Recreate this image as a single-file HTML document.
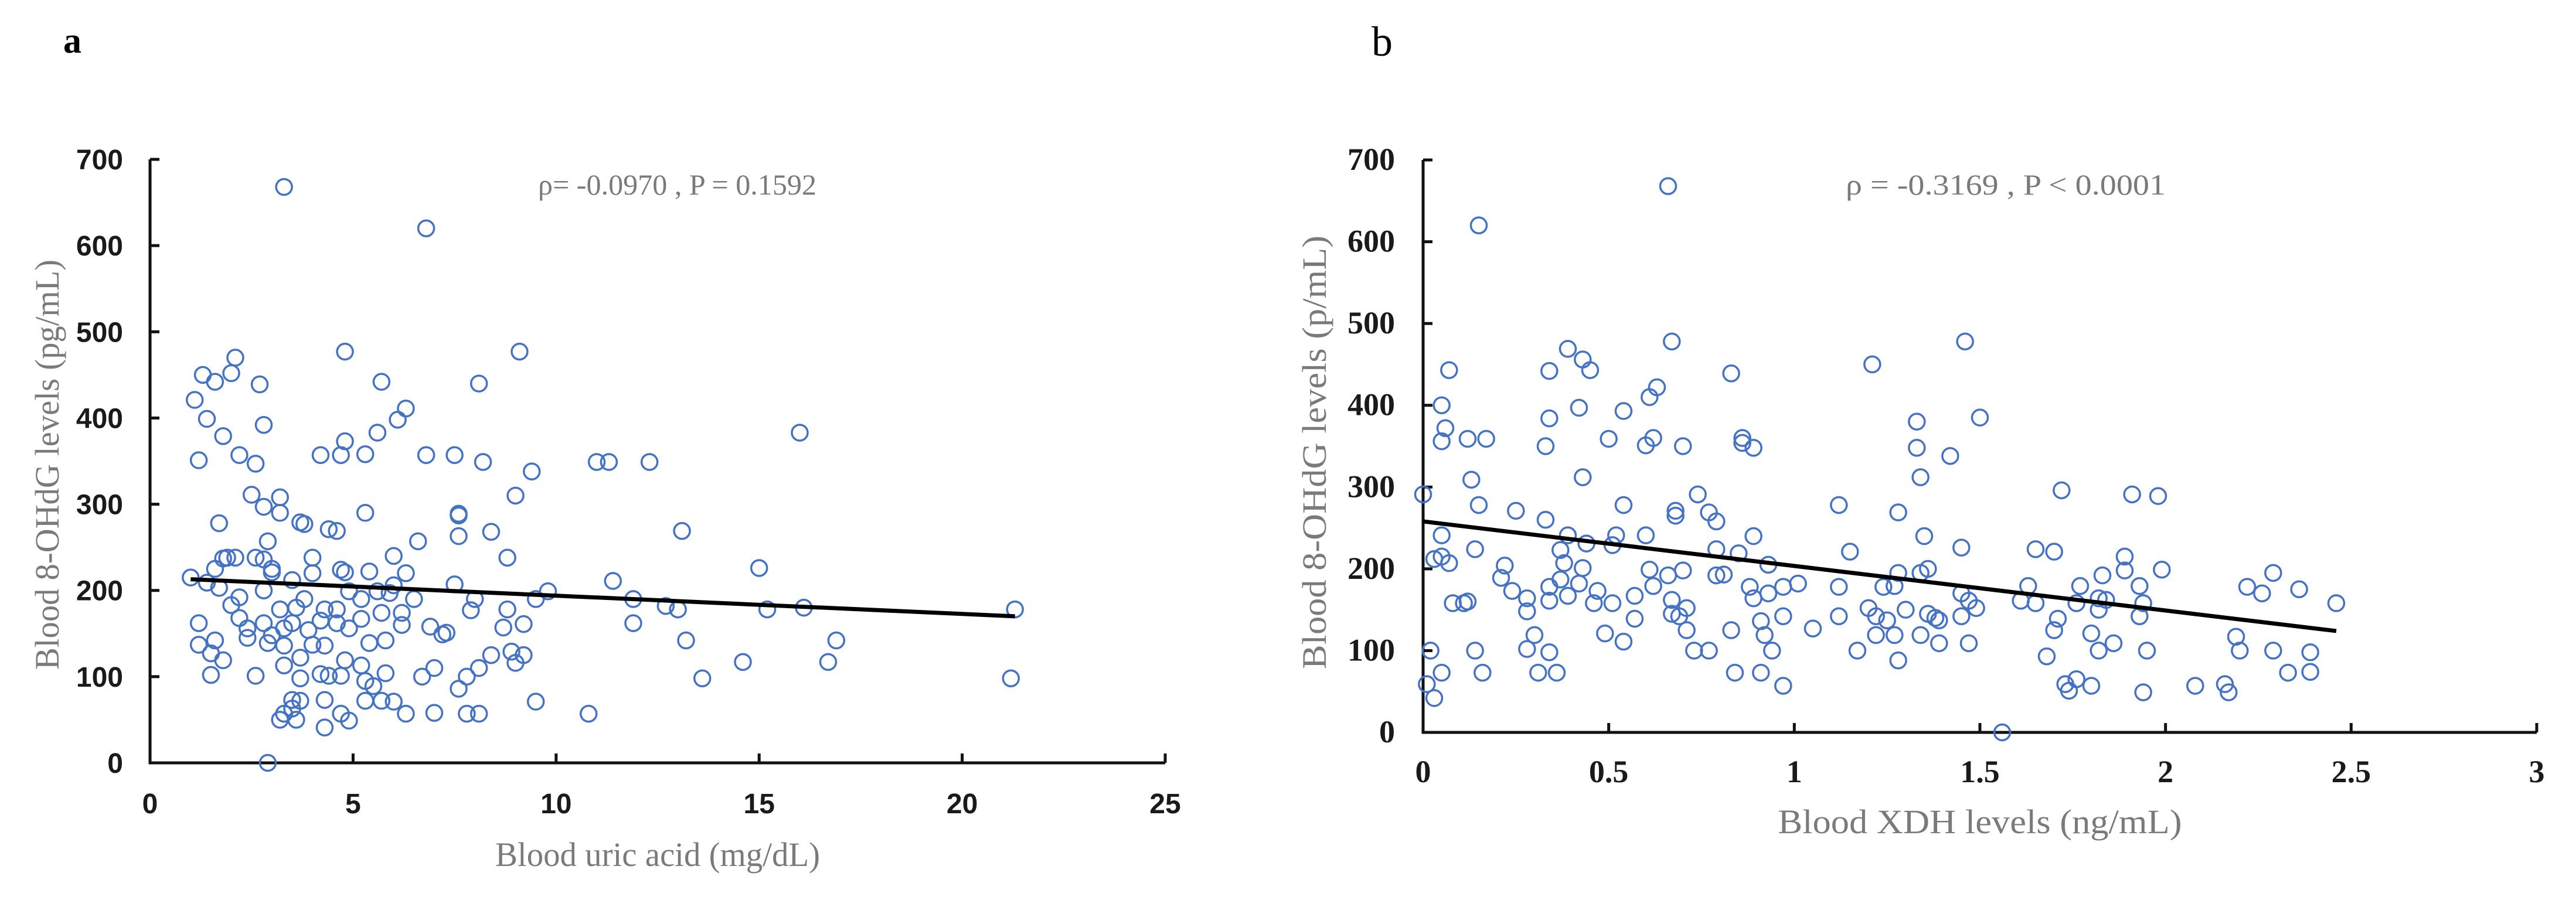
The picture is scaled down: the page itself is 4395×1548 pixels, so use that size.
<!DOCTYPE html>
<html><head><meta charset="utf-8"><style>
html,body{margin:0;padding:0;background:#fff;}
svg{display:block;}
</style></head><body>
<svg id="fig" width="4395" height="1548" viewBox="0 0 4395 1548" xmlns="http://www.w3.org/2000/svg">
<rect width="4395" height="1548" fill="#fff"/>
<text x="108" y="90" font-family="Liberation Serif, serif" font-weight="bold" font-size="62">a</text>
<text x="2340" y="95" font-family="Liberation Serif, serif" font-size="72">b</text>
<g id="ga"></g>
<g id="gb"></g>
</svg>
<script>
// ---- Chart a data: uric acid (mg/dL) vs 8-OHdG (pg/mL)
const aX = [3.3,6.8,4.8,9.1,2.1,1.3,2.0,1.6,2.7,5.7,8.1,1.1,6.3,6.1,1.4,2.8,5.6,16.0,1.8,4.8,2.2,4.2,4.7,5.3,6.8,7.5,1.2,2.6,8.2,11.0,11.3,12.3,9.4,2.5,3.2,9.0,2.8,3.2,5.3,7.6,7.6,3.7,3.8,1.7,4.4,4.6,8.4,13.1,7.6,6.6,2.9,1.9,2.1,1.8,2.6,4.0,8.8,6.0,2.8,3.0,3.0,15.0,1.6,4.7,5.4,4.8,6.3,4.0,11.4,1.0,3.5,1.4,7.5,6.0,1.7,2.8,4.9,5.6,5.9,9.8,5.2,2.2,3.8,6.5,8.0,11.9,9.5,2.0,3.6,3.2,4.3,4.6,5.7,6.2,12.7,13.0,15.2,16.1,21.3,8.8,7.9,2.2,5.2,4.2,2.8,3.5,4.6,1.2,11.9,9.2,6.2,6.9,2.4,3.3,4.9,3.9,8.7,7.3,7.2,3.0,2.4,1.6,16.9,13.2,5.8,5.4,2.9,1.2,4.0,3.3,4.3,1.5,8.9,9.2,8.4,3.7,1.8,4.8,9.0,14.6,16.7,3.3,5.2,7.0,8.1,1.5,2.6,4.4,4.7,5.8,6.7,7.8,3.7,13.6,21.2,4.2,7.6,5.3,5.5,3.5,3.7,4.3,5.3,5.7,6.0,9.5,3.5,3.3,4.7,6.3,7.0,7.8,8.1,10.8,3.2,3.6,4.9,4.3,2.9];
const aY = [668,620,477,477,470,450,452,442,439,442,440,421,411,398,399,392,383,383,379,373,357,357,357,358,357,357,351,347,349,349,349,349,338,311,308,310,297,290,290,289,287,279,277,278,271,269,268,269,263,257,257,238,238,237,238,238,238,240,236,225,221,226,225,224,222,221,220,220,211,215,212,209,207,206,203,200,199,199,197,199,190,192,190,190,190,190,190,183,180,178,178,178,174,174,182,178,178,180,178,178,177,168,167,165,162,162,162,162,162,161,160,158,156,156,156,154,157,151,149,148,145,142,142,142,142,139,139,137,137,136,136,127,129,125,125,122,119,119,116,117,117,113,113,110,110,102,101,101,101,104,100,100,98,98,98,103,86,95,89,73,72,73,72,72,71,71,63,57,57,57,58,57,57,57,50,50,49,41,0];
const aXTicks = [0,5,10,15,20,25];
const aYTicks = [0,100,200,300,400,500,600,700];
const aFit = [[1.0,213],[21.3,170]];
// ---- Chart b data: XDH (ng/mL) vs 8-OHdG (p/mL)
const bX = [0.66,0.15,0.67,1.46,0.39,0.43,0.45,0.34,0.07,1.21,0.83,0.63,0.61,0.05,0.42,0.54,0.34,1.33,1.50,0.06,0.05,0.12,0.17,0.50,0.62,0.86,0.86,0.60,0.33,0.70,0.89,1.33,1.42,0.13,0.43,1.34,0.0,0.74,1.72,1.91,1.98,0.15,0.54,1.12,0.25,0.68,0.68,0.77,1.28,0.33,0.79,0.05,0.39,0.60,0.52,0.89,1.35,0.44,0.51,0.37,0.14,0.79,1.15,1.45,1.65,1.70,0.85,0.05,0.03,1.89,0.07,0.38,0.43,0.61,0.70,0.93,0.22,1.89,1.99,0.79,0.81,0.66,1.28,1.34,1.36,1.83,2.29,0.21,0.37,0.34,0.42,0.62,0.88,0.97,1.01,1.12,1.24,1.27,1.63,1.77,1.93,2.22,2.36,2.26,0.24,0.47,0.93,0.28,0.57,0.34,0.39,0.89,0.46,0.51,0.67,0.08,0.11,0.12,1.45,1.47,1.61,1.65,1.76,1.82,1.84,1.94,2.46,0.28,0.71,1.20,1.30,1.36,1.49,1.82,0.67,0.69,0.97,1.12,1.22,1.38,1.39,1.45,1.25,1.71,1.93,0.57,0.91,1.05,0.83,0.71,1.70,0.30,0.49,0.92,1.22,1.27,1.34,1.80,2.19,0.02,0.14,0.28,0.54,0.73,0.77,0.94,1.17,1.39,1.47,1.86,1.82,1.95,2.20,2.29,2.39,0.34,1.68,1.28,0.05,0.16,0.31,0.36,0.84,0.91,2.33,2.39,0.01,0.97,1.73,1.76,1.80,2.08,2.16,1.74,1.94,2.17,0.03,1.56];
const bY = [668,620,478,478,469,456,443,442,443,450,439,422,410,400,397,393,384,380,385,372,356,359,359,359,360,360,354,351,350,350,348,348,338,309,312,312,291,291,296,291,289,278,278,278,271,271,265,269,269,260,258,241,241,241,241,240,240,231,229,223,224,224,221,226,224,221,219,215,212,215,207,207,201,199,198,205,204,198,199,192,193,192,195,195,200,192,195,189,187,178,182,179,178,178,182,178,178,179,179,179,179,178,175,170,173,173,170,164,167,161,167,164,158,158,162,158,158,160,170,161,161,158,158,164,162,158,158,148,152,152,150,145,152,150,145,142,142,142,142,140,137,142,137,139,142,139,136,127,125,125,125,119,121,119,119,119,119,121,117,100,100,102,111,100,100,100,100,109,109,109,100,100,100,100,98,98,93,88,73,73,73,73,73,73,73,74,59,57,59,65,57,57,59,51,49,49,42,0];
const bXTicks = [0,0.5,1,1.5,2,2.5,3];
const bYTicks = [0,100,200,300,400,500,600,700];
const bFit = [[0,258],[2.46,124]];

const NS = 'http://www.w3.org/2000/svg';
function mk(parent, tag, attrs, text){
  const el = document.createElementNS(NS, tag);
  for (const k in attrs) el.setAttribute(k, attrs[k]);
  if (text !== undefined) el.textContent = text;
  parent.appendChild(el);
  return el;
}

function drawChart(g, cfg, xs, ys, xTicks, yTicks, fit){
  const sx = v => cfg.x0 + (v - cfg.xmin) / (cfg.xmax - cfg.xmin) * (cfg.x1 - cfg.x0);
  const sy = v => cfg.y0 - (v - cfg.ymin) / (cfg.ymax - cfg.ymin) * (cfg.y0 - cfg.y1);
  // axes
  const ya = mk(g, 'line', {x1:cfg.x0, y1:cfg.y0+2, x2:cfg.x0, y2:cfg.y1, stroke:'#111', 'stroke-width':5});
  
  
  const xa = mk(g, 'line', {x1:cfg.x0-2, y1:cfg.y0, x2:cfg.x1, y2:cfg.y0, stroke:'#111', 'stroke-width':5});
  
  
  yTicks.forEach(t => {
    const y = sy(t);
    const tk = mk(g, 'line', {x1:cfg.x0, y1:y, x2:cfg.x0+16, y2:y, stroke:'#111', 'stroke-width':5});
    
    
    const lb = mk(g, 'text', {x:cfg.ylabX, y:y+17, 'text-anchor':'end', 'font-family':cfg.tickFont, 'font-weight':'bold', 'font-size':cfg.tickSize, fill:'#1a1a1a'}, String(t));
    
    
  });
  xTicks.forEach(t => {
    const x = sx(t);
    const tk = mk(g, 'line', {x1:x, y1:cfg.y0, x2:x, y2:cfg.y0-16, stroke:'#111', 'stroke-width':5});
    
    
    const lb = mk(g, 'text', {x:x, y:cfg.xlabY, 'text-anchor':'middle', 'font-family':cfg.tickFont, 'font-weight':'bold', 'font-size':cfg.tickSize, fill:'#1a1a1a'}, String(t));
    
    
  });
  // points
  for (let i = 0; i < xs.length; i++){
    const c = mk(g, 'circle', {cx:sx(xs[i]), cy:sy(ys[i]), r:13.5, fill:'none', stroke:'#4472C4', 'stroke-width':3.5});
    
    
  }
  // fit
  const ln = mk(g, 'line', {x1:sx(fit[0][0]), y1:sy(fit[0][1]), x2:sx(fit[1][0]), y2:sy(fit[1][1]), stroke:'#000', 'stroke-width':7});
  
  
  // titles
  const xt = mk(g, 'text', {x:(cfg.x0+cfg.x1)/2, y:cfg.xtY, 'text-anchor':'middle', 'font-family':'Liberation Serif, serif', 'font-size':58, fill:'#7a7a7a', textLength:cfg.xtLen, lengthAdjust:'spacingAndGlyphs'}, cfg.xTitle);
  
  
  const yt = mk(g, 'text', {x:0, y:0, 'text-anchor':'middle', 'font-family':'Liberation Serif, serif', 'font-size':58, fill:'#7a7a7a', textLength:cfg.ytLen, lengthAdjust:'spacingAndGlyphs', transform:'translate('+cfg.ytX+','+cfg.ytY+') rotate(-90)'}, cfg.yTitle);
  
  
  const an = mk(g, 'text', {x:cfg.anX, y:332, 'font-family':'Liberation Serif, serif', 'font-size':50, fill:'#7a7a7a', textLength:cfg.anLen, lengthAdjust:'spacingAndGlyphs'}, cfg.annot);
  
  
}

drawChart(document.getElementById('ga'), {
  x0:256, x1:1988, y0:1302, y1:272, xmin:0, xmax:25, ymin:0, ymax:700,
  ylabX:210, xlabY:1388, tickFont:'Liberation Sans, sans-serif', tickSize:48,
  xTitle:'Blood uric acid (mg/dL)', xtY:1478, xtLen:554,
  yTitle:'Blood 8-OHdG levels (pg/mL)', ytX:100, ytY:793, ytLen:700,
  annot:'ρ= -0.0970 , P = 0.1592', anX:918, anLen:475
}, aX, aY, aXTicks, aYTicks, aFit);

drawChart(document.getElementById('gb'), {
  x0:2428, x1:4328, y0:1250, y1:273, xmin:0, xmax:3, ymin:0, ymax:700,
  ylabX:2380, xlabY:1335, tickFont:'Liberation Serif, serif', tickSize:54,
  xTitle:'Blood XDH levels (ng/mL)', xtY:1422, xtLen:689,
  yTitle:'Blood 8-OHdG levels (p/mL)', ytX:2262, ytY:772, ytLen:740,
  annot:'ρ = -0.3169  , P < 0.0001', anX:3149, anLen:546
}, bX, bY, bXTicks, bYTicks, bFit);
</script>
</body></html>
